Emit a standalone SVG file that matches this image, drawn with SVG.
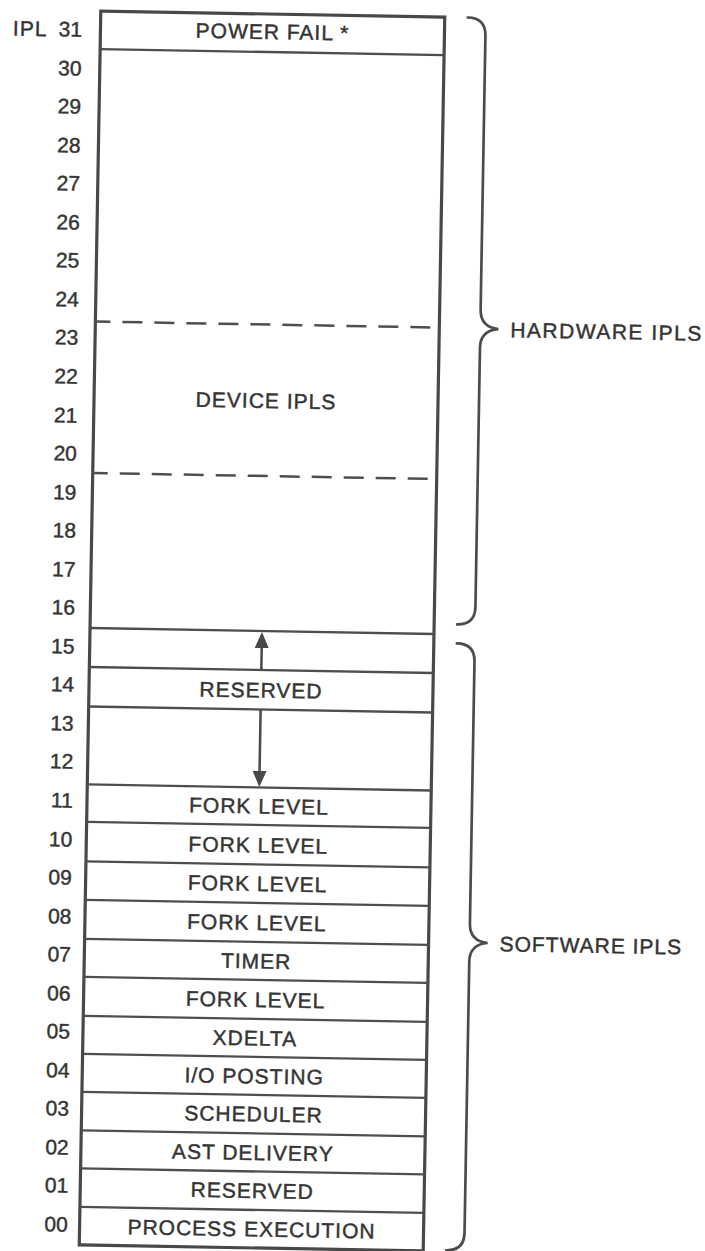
<svg xmlns="http://www.w3.org/2000/svg" width="705" height="1251" viewBox="0 0 705 1251">
<style>
.t{font-family:"Liberation Sans",Arial,Helvetica,sans-serif;font-size:21px;fill:#353535;stroke:#353535;stroke-width:0.45px;letter-spacing:1px}
.c{text-anchor:middle}
.n{text-anchor:end;letter-spacing:0}
.box{fill:none;stroke:#484848;stroke-width:3.2}
.sep{stroke:#4e4e4e;stroke-width:2.3}
.dash{stroke:#4e4e4e;stroke-width:2.5;stroke-dasharray:20 12;stroke-dashoffset:5}
.br{fill:none;stroke:#4c4c4c;stroke-width:2.7;stroke-linecap:round}
.ar{stroke:#484848;stroke-width:2.5}
</style>
<defs>
<marker id="ah" viewBox="0 0 16 14" refX="10" refY="7" markerWidth="16" markerHeight="14" orient="auto" markerUnits="userSpaceOnUse"><path d="M0,0 L16,7 L0,14 z" fill="#484848"/></marker>
</defs>
<rect width="705" height="1251" fill="#ffffff"/>
<g transform="rotate(1 262 631)">
<g id="levels">
<text x="2.5" y="40" class="t">IPL</text>
<text class="t n" x="71.5" y="40">31</text>
<text class="t n" x="71.7" y="79">30</text>
<text class="t n" x="71.9" y="117">29</text>
<text class="t n" x="72.1" y="156">28</text>
<text class="t n" x="72.3" y="194">27</text>
<text class="t n" x="72.6" y="233">26</text>
<text class="t n" x="72.8" y="271">25</text>
<text class="t n" x="73.0" y="310">24</text>
<text class="t n" x="73.2" y="348">23</text>
<text class="t n" x="73.4" y="387">22</text>
<text class="t n" x="73.6" y="426">21</text>
<text class="t n" x="73.8" y="464">20</text>
<text class="t n" x="74.0" y="503">19</text>
<text class="t n" x="74.3" y="541">18</text>
<text class="t n" x="74.5" y="580">17</text>
<text class="t n" x="74.7" y="618">16</text>
<text class="t n" x="74.9" y="657">15</text>
<text class="t n" x="75.1" y="695">14</text>
<text class="t n" x="75.3" y="734">13</text>
<text class="t n" x="75.5" y="772">12</text>
<text class="t n" x="75.7" y="811">11</text>
<text class="t n" x="76.0" y="850">10</text>
<text class="t n" x="76.2" y="888">09</text>
<text class="t n" x="76.4" y="927">08</text>
<text class="t n" x="76.6" y="965">07</text>
<text class="t n" x="76.8" y="1004">06</text>
<text class="t n" x="77.0" y="1042">05</text>
<text class="t n" x="77.2" y="1081">04</text>
<text class="t n" x="77.4" y="1119">03</text>
<text class="t n" x="77.7" y="1158">02</text>
<text class="t n" x="77.9" y="1196">01</text>
<text class="t n" x="78.1" y="1235">00</text>
</g>
<rect id="frame" class="box" x="90" y="14" width="344" height="1234"/>
<g id="ipl31"><line class="sep" x1="90" y1="52" x2="434" y2="52"/><text class="t c" x="262" y="39">POWER FAIL *</text></g>
<g id="device"><line class="dash" x1="90" y1="324.5" x2="434" y2="324.5"/><line class="dash" x1="90" y1="476" x2="434" y2="476"/><text class="t c" x="262" y="408">DEVICE IPLS</text></g>
<g id="ipl15"><line class="sep" x1="90" y1="631" x2="434" y2="631"/></g>
<g id="ipl14"><line class="sep" x1="90" y1="670" x2="434" y2="670"/><text class="t c" x="262" y="697.5">RESERVED</text><line class="sep" x1="90" y1="709.5" x2="434" y2="709.5"/></g>
<g id="ipl11"><line class="sep" x1="90" y1="787.5" x2="434" y2="787.5"/><text class="t c" x="262" y="813.5">FORK LEVEL</text></g>
<g id="ipl10"><line class="sep" x1="90" y1="825" x2="434" y2="825"/><text class="t c" x="262" y="852.5">FORK LEVEL</text></g>
<g id="ipl09"><line class="sep" x1="90" y1="864.5" x2="434" y2="864.5"/><text class="t c" x="262" y="891">FORK LEVEL</text></g>
<g id="ipl08"><line class="sep" x1="90" y1="903" x2="434" y2="903"/><text class="t c" x="262" y="930">FORK LEVEL</text></g>
<g id="ipl07"><line class="sep" x1="90" y1="942" x2="434" y2="942"/><text class="t c" x="262" y="968.5">TIMER</text></g>
<g id="ipl06"><line class="sep" x1="90" y1="980" x2="434" y2="980"/><text class="t c" x="262" y="1007">FORK LEVEL</text></g>
<g id="ipl05"><line class="sep" x1="90" y1="1019" x2="434" y2="1019"/><text class="t c" x="262" y="1045.5">XDELTA</text></g>
<g id="ipl04"><line class="sep" x1="90" y1="1057" x2="434" y2="1057"/><text class="t c" x="262" y="1083.5">I/O POSTING</text></g>
<g id="ipl03"><line class="sep" x1="90" y1="1095" x2="434" y2="1095"/><text class="t c" x="262" y="1121.5">SCHEDULER</text></g>
<g id="ipl02"><line class="sep" x1="90" y1="1133.5" x2="434" y2="1133.5"/><text class="t c" x="262" y="1160">AST DELIVERY</text></g>
<g id="ipl01"><line class="sep" x1="90" y1="1171.5" x2="434" y2="1171.5"/><text class="t c" x="262" y="1198">RESERVED</text></g>
<g id="ipl00"><line class="sep" x1="90" y1="1210" x2="434" y2="1210"/><text class="t c" x="262" y="1236.5">PROCESS EXECUTION</text></g>
<g id="connectors">
<line class="ar" x1="262" y1="670" x2="262" y2="638" marker-end="url(#ah)"/>
<line class="ar" x1="262" y1="709.5" x2="262" y2="781" marker-end="url(#ah)"/>
</g>
<g id="hardware">
<path class="br" d="M457,14 Q475,14 475,32 L475,306 C475,318 482,324 493,325 C482,326 475,332 475,344 L475,603 Q475,621 457,621"/>
<text class="t" x="505" y="333" style="letter-spacing:1.5px">HARDWARE IPLS</text>
</g>
<g id="software">
<path class="br" d="M457,640 Q475,640 475,658 L475,920 C475,932 482,938 493,939 C482,940 475,946 475,958 L475,1229 Q475,1247 457,1247"/>
<text class="t" x="505" y="947">SOFTWARE IPLS</text>
</g>
</g>
</svg>
